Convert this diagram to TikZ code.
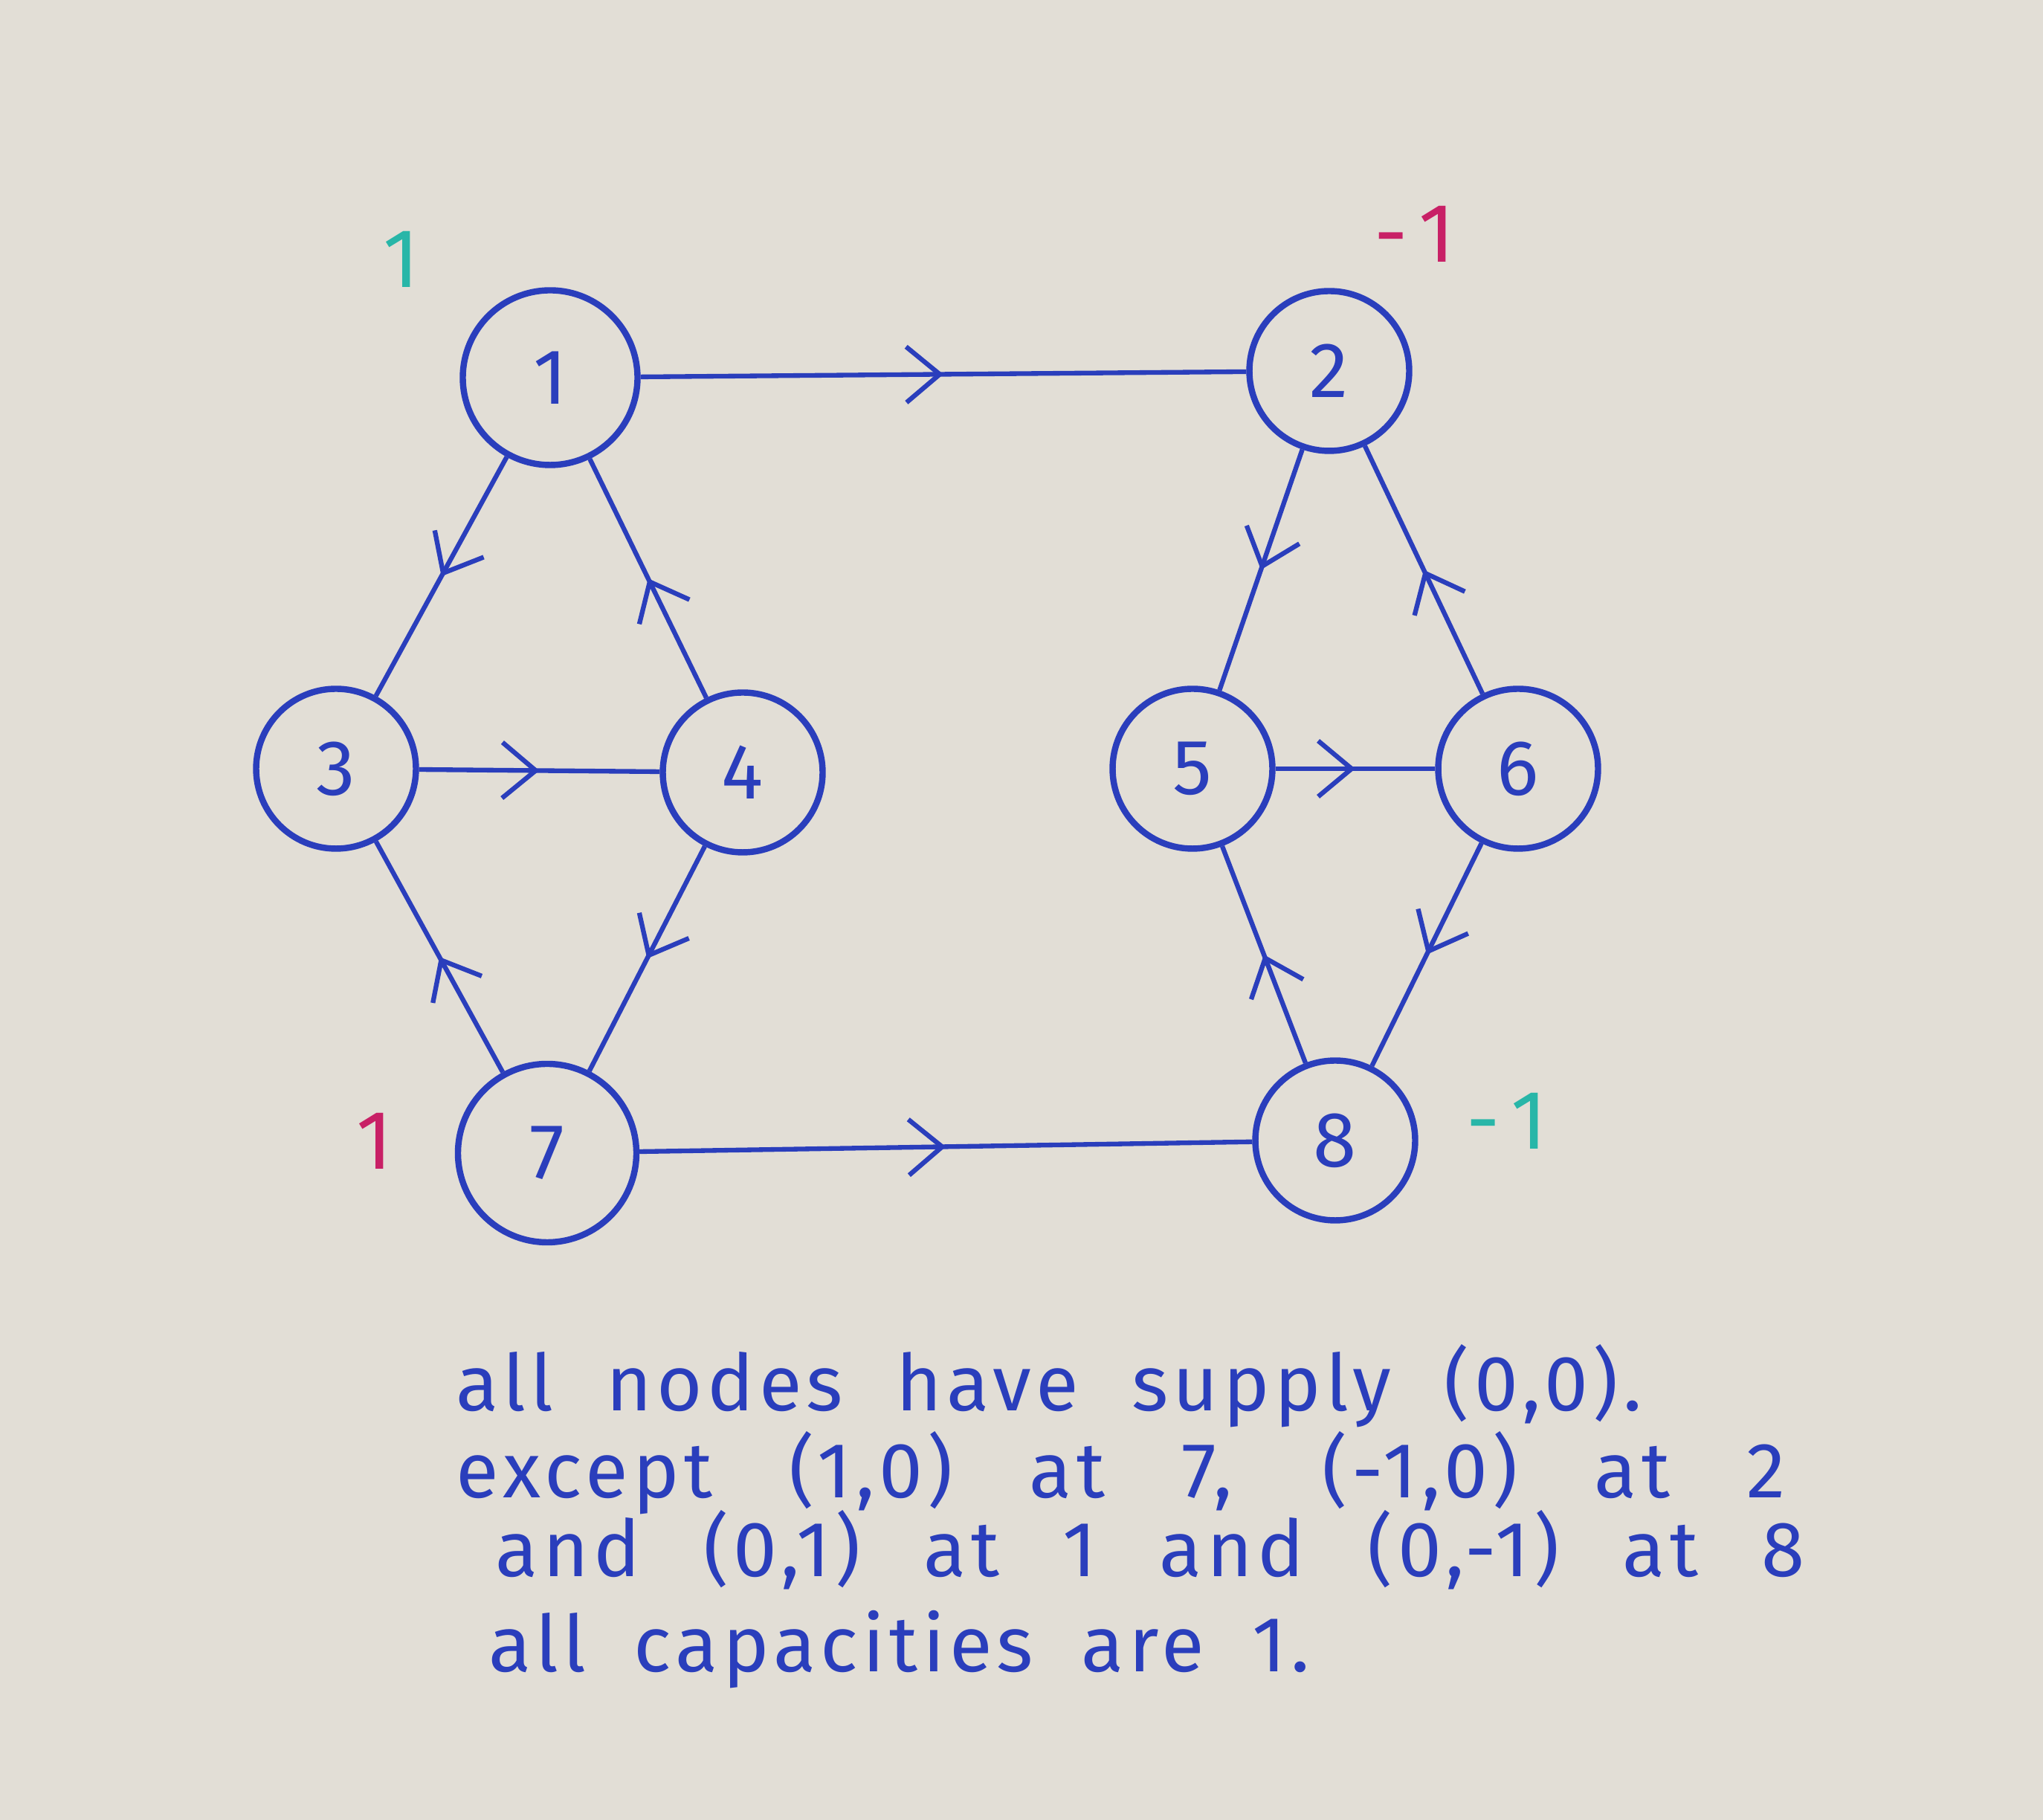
\documentclass[tikz,border=0pt]{standalone}
\usepackage{fontspec}
\setmainfont{Fira Sans}
\usetikzlibrary{arrows.meta,decorations.markings}
\definecolor{ink}{RGB}{42,62,188}
\definecolor{mint}{RGB}{40,182,168}
\definecolor{berry}{RGB}{200,32,102}
\definecolor{paper}{RGB}{226,222,214}

\tikzset{
  vertex/.style={circle,draw=ink,line width=2.4pt,minimum size=2.15cm,inner sep=0pt,
    text=ink,font=\fontsize{30}{36}\selectfont},
  flow/.style={draw=ink,line width=1.8pt,postaction={decorate},
    decoration={markings,mark=at position 0.5 with {\arrow[line width=1.8pt]{Straight Barb[length=4.5mm,width=7.5mm]}}}},
  supply/.style={font=\fontsize{32}{38}\selectfont\addfontfeatures{LetterSpace=20}},
  note/.style={anchor=base west,text=ink,inner sep=0pt,
    font=\fontsize{30}{36}\selectfont\addfontfeatures{LetterSpace=6}}
}

\begin{document}
\begin{tikzpicture}
  \fill[paper] (0,0) rectangle (27.48,24.48);
  \useasboundingbox (0,0) rectangle (27.48,24.48);

  % left hexagon
  \node[vertex,minimum size=2.35cm] (n1) at (7.40,19.40) {1};
  \node[vertex] (n3) at (4.52,14.14) {3};
  \node[vertex] (n4) at (9.99,14.09) {4};
  \node[vertex,minimum size=2.4cm] (n7) at (7.36,8.97) {7};
  % right hexagon
  \node[vertex] (n2) at (17.88,19.49) {2};
  \node[vertex] (n5) at (16.04,14.14) {5};
  \node[vertex] (n6) at (20.42,14.14) {6};
  \node[vertex] (n8) at (17.96,9.14) {8};

  % supplies
  \node[supply,text=mint] (s1) at (5.40,20.99) {1};
  \node[supply,text=berry] (s2) at (19.03,21.33) {-1};
  \node[supply,text=berry] (s7) at (5.04,9.13) {1};
  \node[supply,text=mint] (s8) at (20.27,9.40) {-1};

  \draw[flow] (n1) -- (n2);
  \draw[flow] (n1) -- (n3);
  \draw[flow] (n4) -- (n1);
  \draw[flow] (n3) -- (n4);
  \draw[flow] (n4) -- (n7);
  \draw[flow] (n7) -- (n3);
  \draw[flow] (n7) -- (n8);
  \draw[flow] (n2) -- (n5);
  \draw[flow] (n6) -- (n2);
  \draw[flow] (n5) -- (n6);
  \draw[flow] (n6) -- (n8);
  \draw[flow] (n8) -- (n5);

  \node[note] (l1) at (6.13,5.50) {\makebox[15.95cm][s]{all nodes have supply (0,0).}};
  \node[note] (l2) at (6.13,4.33) {\makebox[17.88cm][s]{except (1,0) at 7, (-1,0) at 2}};
  \node[note] (l3) at (6.66,3.27) {\makebox[17.61cm][s]{and (0,1) at 1 and (0,-1) at 8}};
  \node[note] (l4) at (6.57,1.99) {\makebox[11.04cm][s]{all capacities are 1.}};
\end{tikzpicture}
\end{document}
